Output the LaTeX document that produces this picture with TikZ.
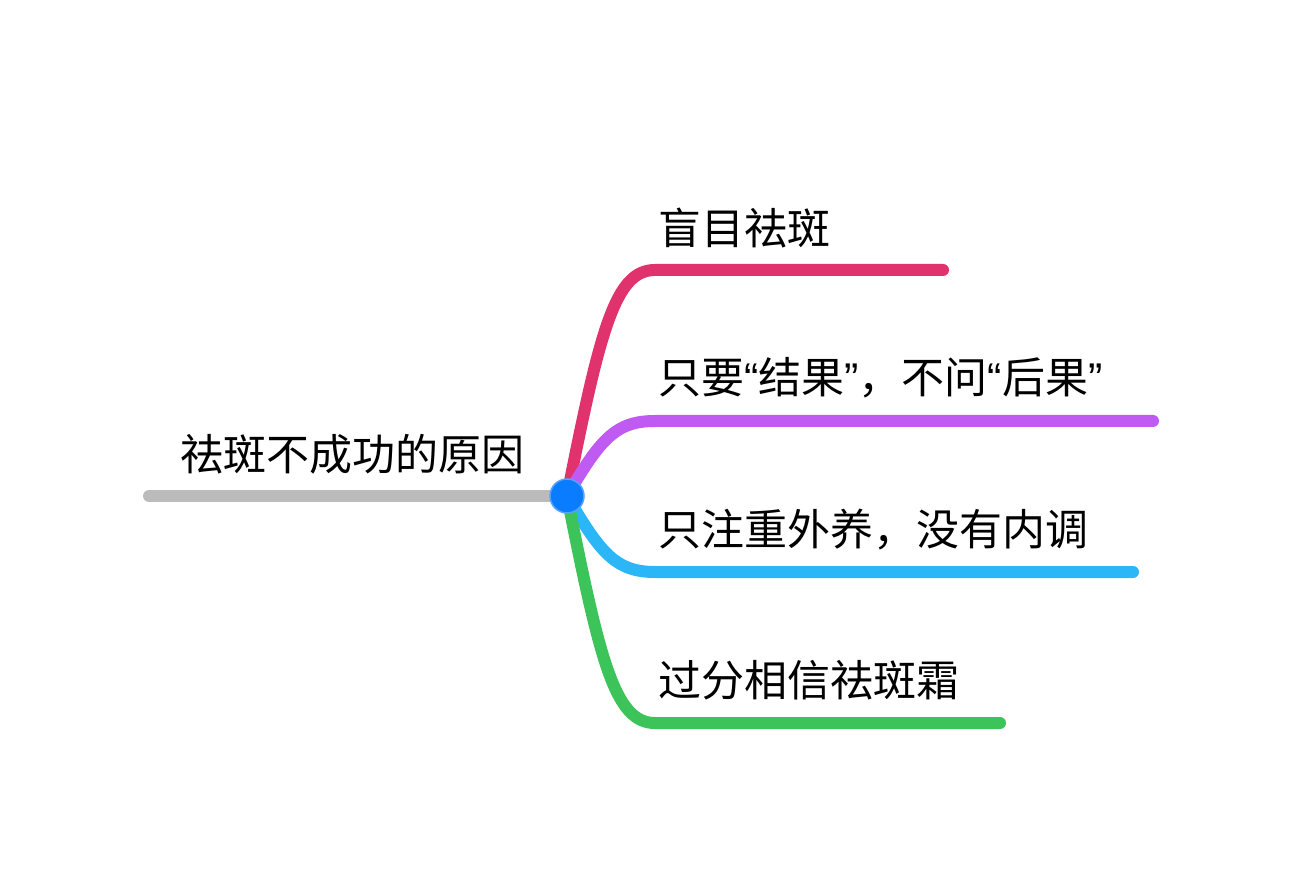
\documentclass[tikz,border=0pt]{standalone}
\usepackage{fontspec}
\setmainfont{Noto Sans CJK SC}
\newfontfamily\qfont{Liberation Sans}
\begin{document}
\begin{tikzpicture}[x=1pt,y=-1pt,
  br/.style={line width=12pt,line cap=round},
  lbl/.style={anchor=west,inner sep=0pt,font=\fontsize{43}{45}\selectfont}]
\useasboundingbox (0,0) rectangle (1302,874);
\definecolor{cred}{HTML}{E0336E}
\definecolor{cpur}{HTML}{BF5BF2}
\definecolor{cblu}{HTML}{2BB7F7}
\definecolor{cgrn}{HTML}{3CC35A}
\definecolor{cgry}{HTML}{BBBBBB}
\definecolor{cdot}{HTML}{0A7CFF}
\coordinate (c) at (567,496);
\coordinate (g) at (149,496);
\coordinate (r1) at (655,270); \coordinate (r2) at (943,270);
\coordinate (p1) at (655,421); \coordinate (p2) at (1153,421);
\coordinate (b1) at (655,572); \coordinate (b2) at (1133,572);
\coordinate (q1) at (655,723); \coordinate (q2) at (1000,723);
\draw[br,cgry] (g) -- (c);
\draw[br,cred] (c) .. controls (600,330) and (615,270) .. (r1) -- (r2);
\draw[br,cpur] (c) .. controls (600,440) and (615,421) .. (p1) -- (p2);
\draw[br,cblu] (c) .. controls (600,552) and (615,572) .. (b1) -- (b2);
\draw[br,cgrn] (c) .. controls (600,662) and (615,723) .. (q1) -- (q2);
\node[circle,fill=cdot,draw=cdot!70!white,line width=1.5pt,minimum size=34pt,inner sep=0pt] (dot) at (c) {};
\node[lbl] (t0) at (180,454) {祛斑不成功的原因};
\node[lbl] (t1) at (658,228) {盲目祛斑};
\node[lbl] (t2) at (658,378) {只要{\qfont “}结果{\qfont ”}，不问{\qfont “}后果{\qfont ”}};
\node[lbl] (t3) at (658,530) {只注重外养，没有内调};
\node[lbl] (t4) at (658,680) {过分相信祛斑霜};
\end{tikzpicture}
\end{document}
